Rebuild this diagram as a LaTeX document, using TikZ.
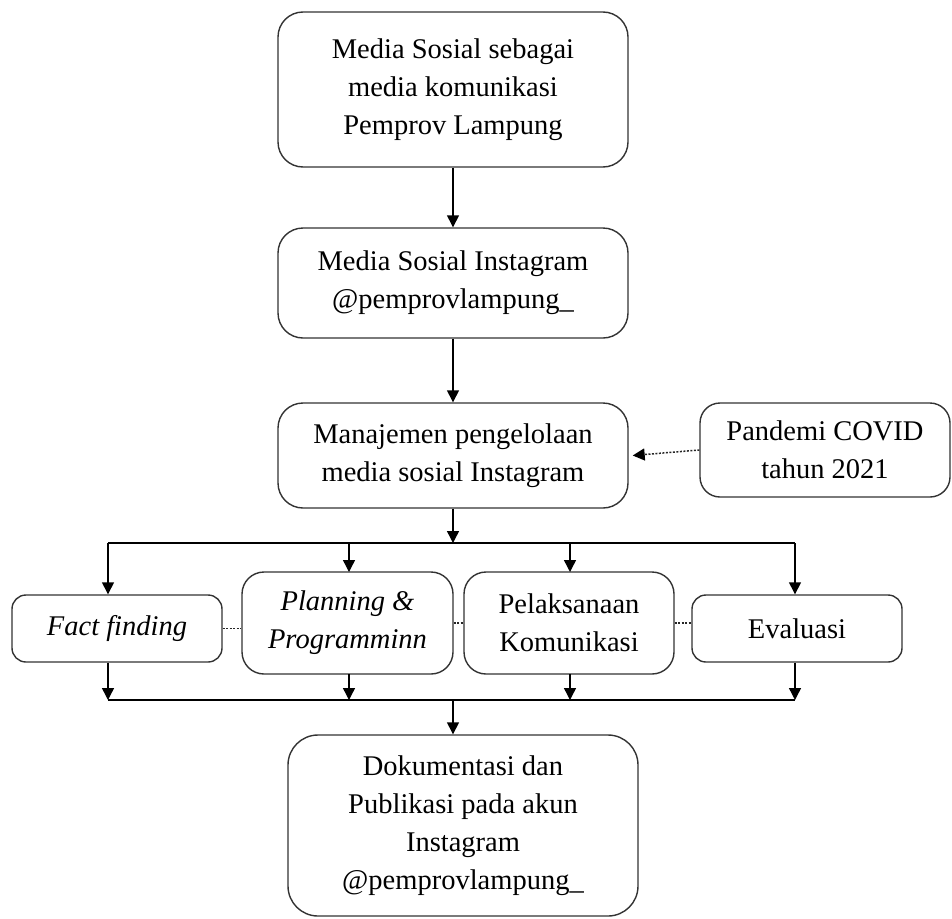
\documentclass[tikz,border=0pt]{standalone}
\usepackage{fontspec}
\setmainfont{Liberation Serif}
\usetikzlibrary{arrows.meta}
\begin{document}
\begin{tikzpicture}[x=1pt,y=-1pt,
  box/.style={draw=black!80, line width=1.4pt, rounded corners=#1, inner sep=0pt, align=center,
    font=\fontsize{28.5}{38}\selectfont},
  box/.default=25pt,
  arr/.style={-{Triangle[length=12pt,width=12pt]}, line width=1.4pt},
  ln/.style={line width=1.4pt},
  dotline/.style={black!85, line width=1.5pt, dash pattern=on 2pt off 1.5pt}]
\useasboundingbox (0,0) rectangle (952,918);

\node[box, minimum width=350pt, minimum height=155pt] (b1) at (453,89.5)
  {Media Sosial sebagai\\media komunikasi\\Pemprov Lampung};
\node[box, minimum width=350pt, minimum height=110pt] (b2) at (453,283)
  {Media Sosial Instagram\\@pemprovlampung\_};
\node[box, minimum width=350pt, minimum height=105pt] (b3) at (453,455.5)
  {Manajemen pengelolaan\\media sosial Instagram};
\node[box=20pt, minimum width=250pt, minimum height=94pt] (pc) at (825,450)
  {Pandemi COVID\\tahun 2021};

\node[box=14pt, minimum width=210pt, minimum height=67pt] (ff) at (117,628.5)
  {\itshape Fact finding};
\node[box=22pt, minimum width=211pt, minimum height=102pt] (pp) at (347.5,623)
  {\itshape Planning \&\\\itshape Programminn};
\node[box=22pt, minimum width=210pt, minimum height=102pt] (pk) at (569,623)
  {Pelaksanaan\\Komunikasi};
\node[box=14pt, minimum width=210pt, minimum height=67pt] (ev) at (797,628.5)
  {Evaluasi};

\node[box=30pt, minimum width=350pt, minimum height=181pt] (b4) at (463,825.5)
  {Dokumentasi dan\\Publikasi pada akun\\Instagram\\@pemprovlampung\_};

% vertical chain
\draw[arr] (b1) -- (b2);
\draw[arr] (b2) -- (b3);
\draw[dotline, -{Triangle[length=12pt,width=12pt,black]}] (pc.west) -- ([xshift=4pt]b3.east);

% top bus
\coordinate (busT) at (453,543);
\coordinate (tL) at (108,543);
\coordinate (tR) at (795,543);
\draw[arr] (b3) -- (busT);
\draw[ln] (tL) -- (tR);
\draw[arr] (tL) -- (tL |- ff.north);
\draw[arr] (349,543) -- (349,572);
\draw[arr] (570,543) -- (570,572);
\draw[arr] (tR) -- (tR |- ev.north);

% bottom bus
\coordinate (bL) at (108,700);
\coordinate (bR) at (795,700);
\coordinate (busB) at (453,700);
\draw[ln] (bL) -- (bR);
\draw[arr] (ff.south -| bL) -- (bL);
\draw[arr] (349,674) -- (349,700);
\draw[arr] (570,674) -- (570,700);
\draw[arr] (ev.south -| bR) -- (bR);
\draw[arr] (busB) -- (busB |- b4.north);

% dotted links
\draw[dotline] (ff.east) -- (ff.east -| pp.west);
\draw[dotline] (pp.east) -- (pk.west);
\draw[dotline] (pk.east) -- (pk.east -| ev.west);
\end{tikzpicture}
\end{document}
